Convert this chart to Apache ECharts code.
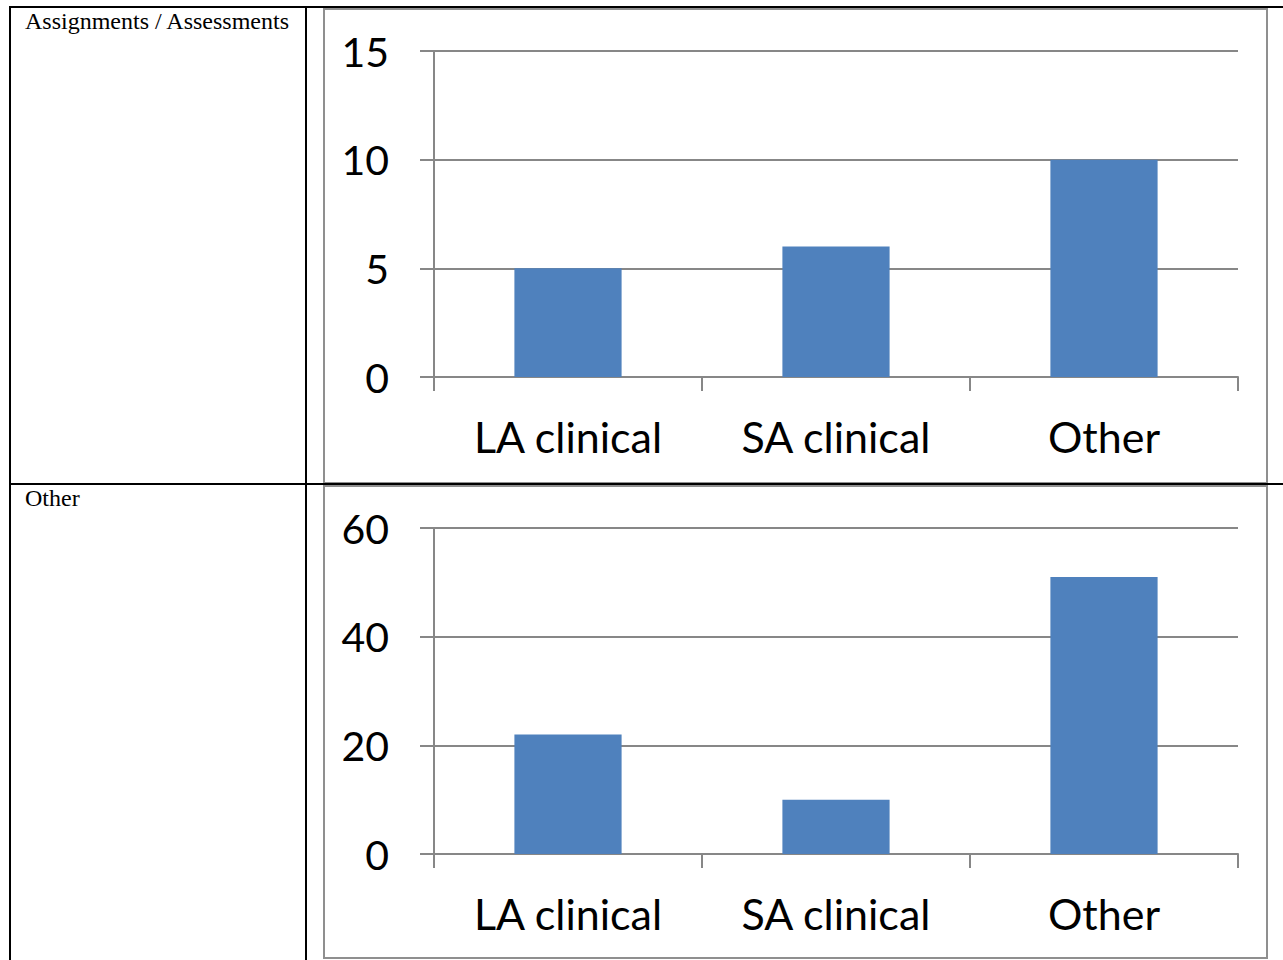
<!DOCTYPE html>
<html>
<head>
<meta charset="utf-8">
<script src="https://cdn.jsdelivr.net/npm/echarts@6/dist/echarts.min.js"></script>
<style>
  html, body { margin: 0; padding: 0; background: #fff; }
  #chart { width: 1283px; height: 960px; }
</style>
</head>
<body>
<div id="chart"></div>
<script>
// Row labels of the table and the categories shared by both charts
const rowLabels = ['Assignments / Assessments', 'Other'];
const categories = ['LA clinical', 'SA clinical', 'Other'];

// Counts per category for each row
const assessmentValues = [5, 6, 10];
const otherValues = [22, 10, 51];

// Value-axis ranges
const assessmentAxis = { min: 0, max: 15, interval: 5 };
const otherAxis = { min: 0, max: 60, interval: 20 };

const GRAY = '#878787';
const BAR = '#4F81BD';
const LABEL_FONT = 'Lato, "Open Sans", "Noto Sans", sans-serif';
const SERIF = '24px "Liberation Serif", "Times New Roman", serif';

function xAxis(gridIndex) {
  return {
    type: 'category',
    gridIndex,
    data: categories,
    boundaryGap: true,
    axisLine: { lineStyle: { color: GRAY, width: 2 } },
    axisTick: { show: true, length: 14, inside: false, alignWithLabel: false, lineStyle: { color: GRAY, width: 2 } },
    axisLabel: { color: '#000', fontSize: 43, fontFamily: LABEL_FONT, margin: 38 }
  };
}

function yAxis(gridIndex, range) {
  return {
    type: 'value',
    gridIndex,
    min: range.min,
    max: range.max,
    interval: range.interval,
    axisLine: { show: true, lineStyle: { color: GRAY, width: 2 } },
    axisTick: { show: true, length: 14, inside: false, lineStyle: { color: GRAY, width: 2 } },
    splitLine: { show: true, lineStyle: { color: GRAY, width: 2 } },
    axisLabel: { color: '#000', fontSize: 41, fontFamily: LABEL_FONT, margin: 45 }
  };
}

// Table rules and chart frames
const line = (x1, y1, x2, y2, color, w) => ({
  type: 'line', silent: true,
  shape: { x1, y1, x2, y2 },
  style: { stroke: color, lineWidth: w }
});

const graphics = [
  // chart frames
  { type: 'rect', shape: { x: 324, y: 9, width: 943, height: 474 }, style: { fill: null, stroke: '#8f8f8f', lineWidth: 2 }, silent: true },
  { type: 'rect', shape: { x: 324, y: 486, width: 943, height: 472 }, style: { fill: null, stroke: '#8f8f8f', lineWidth: 2 }, silent: true },
  // table rules
  line(10, 7, 1283, 7, '#000', 2),
  line(10, 484, 1283, 484, '#000', 2),
  line(10, 6, 10, 960, '#000', 2),
  line(306, 6, 306, 960, '#000', 2),
  // row labels
  { type: 'text', left: 25, top: 9, style: { text: rowLabels[0], fill: '#000', font: SERIF } },
  { type: 'text', left: 25, top: 486, style: { text: rowLabels[1], fill: '#000', font: SERIF } }
];

const chart = echarts.init(document.getElementById('chart'), null, { renderer: 'svg' });
chart.setOption({
  animation: false,
  backgroundColor: '#fff',
  grid: [
    { left: 434, right: 45, top: 51, height: 326 },
    { left: 434, right: 45, top: 528, height: 326 }
  ],
  xAxis: [xAxis(0), xAxis(1)],
  yAxis: [yAxis(0, assessmentAxis), yAxis(1, otherAxis)],
  series: [
    { type: 'bar', xAxisIndex: 0, yAxisIndex: 0, data: assessmentValues, barWidth: '40%', itemStyle: { color: BAR } },
    { type: 'bar', xAxisIndex: 1, yAxisIndex: 1, data: otherValues, barWidth: '40%', itemStyle: { color: BAR } }
  ],
  graphic: graphics
});
</script>
</body>
</html>
